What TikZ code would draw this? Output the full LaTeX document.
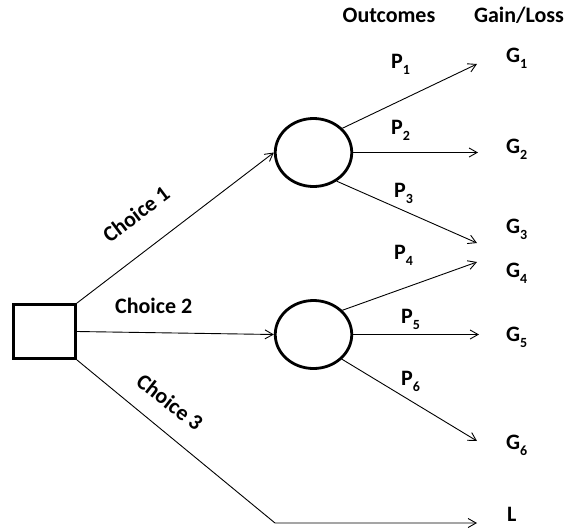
\documentclass[tikz,border=0pt]{standalone}
\usepackage{fontspec}
\usepackage{graphicx}
\setmainfont{Carlito}
\usetikzlibrary{arrows.meta,shapes.geometric}
% lowered index after a letter (G_1, P_1)
\newcommand\lowidx[1]{\raisebox{-6pt}{\fontsize{14}{14}\selectfont #1}}
\begin{document}
\begin{tikzpicture}[x=1pt,y=-1pt,
  txt/.style={font=\fontsize{22}{24}\selectfont\bfseries, inner sep=0pt},
  chance/.style={draw, line width=2.8pt, ellipse, minimum width=76.5pt, minimum height=68pt, inner sep=0pt},
  decision/.style={draw, line width=2.8pt, rectangle, minimum width=62pt, minimum height=54pt, inner sep=0pt},
  link/.style={line width=0.9pt, -{Straight Barb[length=8pt,width=9pt]}}]
\useasboundingbox (0,0) rectangle (571,531);

% decision and chance nodes
\node[decision] (dec) at (44.5,331.5) {};
\node[chance] (c1) at (313.5,152.5) {};
\node[chance] (c2) at (313.5,334.5) {};

% column headings
\node[txt, anchor=base] (hout) at (389,22) {Outcomes};
\node[txt, anchor=base] (hgain) at (519,22) {Gain/Loss};

% choices
\node[txt, rotate=37] (ch1) at (136,214) {Choice 1};
\node[txt, anchor=base west] (ch2) at (115,313) {Choice 2};
\node[txt, rotate=-38] (ch3) at (170,402) {Choice 3};

\draw[link] (dec.north east) -- (c1.west);
\draw[link] (dec.east) -- (c2.west);
\coordinate (bend) at (275,523);
\coordinate (tL) at (477,523);
\draw[link] (dec.south east) -- (bend) -- (tL);

% outcome arrow tips
\coordinate (t1) at (477,64);
\coordinate (t2) at (478,152.5);
\coordinate (t3) at (477,243);
\coordinate (t4) at (477,262);
\coordinate (t5) at (479,334.5);
\coordinate (t6) at (477,441);

\draw[link] (c1.40) -- (t1);
\draw[link] (c1.east) -- (t2);
\draw[link] (c1.-51) -- (t3);
\draw[link] (c2.40) -- (t4);
\draw[link] (c2.east) -- (t5);
\draw[link] (c2.-41) -- (t6);

% probabilities
\node[txt, anchor=base west] (p1) at (391,68) {P\lowidx{1}};
\node[txt, anchor=base west] (p2) at (391,134) {P\lowidx{2}};
\node[txt, anchor=base west] (p3) at (394,197) {P\lowidx{3}};
\node[txt, anchor=base west] (p4) at (394,259) {P\lowidx{4}};
\node[txt, anchor=base west] (p5) at (401,323) {P\lowidx{5}};
\node[txt, anchor=base west] (p6) at (401,385) {P\lowidx{6}};

% gains and loss
\node[txt, anchor=base west] (g1) at (506,62) {G\lowidx{1}};
\node[txt, anchor=base west] (g2) at (506,153) {G\lowidx{2}};
\node[txt, anchor=base west] (g3) at (506,233) {G\lowidx{3}};
\node[txt, anchor=base west] (g4) at (506,277) {G\lowidx{4}};
\node[txt, anchor=base west] (g5) at (506,341) {G\lowidx{5}};
\node[txt, anchor=base west] (g6) at (506,449) {G\lowidx{6}};
\node[txt, anchor=base west] (lossL) at (507,521) {L};
\end{tikzpicture}
\end{document}
